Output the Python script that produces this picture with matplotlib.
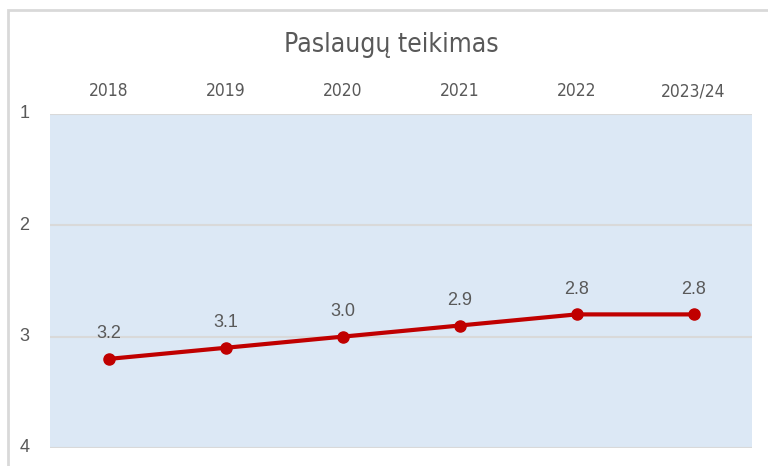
import matplotlib.pyplot as plt
from matplotlib.patches import Rectangle

years = ['2018', '2019', '2020', '2021', '2022', '2023/24']
values = [3.2, 3.1, 3.0, 2.9, 2.8, 2.8]
y_ticks = [1, 2, 3, 4]

label_col = '#595959'

fig = plt.figure(figsize=(7.68, 4.66), dpi=100)
W, H = 768, 466
ax = fig.add_axes([50 / W, 1 - 448 / H, 702 / W, 334 / H])
ax.set_facecolor('#dce8f5')

# outer chart border
fig.patches.append(Rectangle((8 / W, -0.05), 1.0, 1 - 10 / H + 0.05,
                             transform=fig.transFigure, fill=False,
                             edgecolor='#d9d9d9', linewidth=2))

x = list(range(len(years)))
ax.plot(x, values, color='#c00000', linewidth=3, marker='o', markersize=8, zorder=3)
for xi, v in zip(x, values):
    ax.annotate(f'{v:.1f}', (xi, v), xytext=(0, 12), textcoords='offset points',
                ha='center', va='bottom', fontsize=13, color=label_col,
                family='Liberation Sans')

ax.set_xlim(-0.5, len(years) - 0.5)
ax.set_ylim(4, 1)
ax.set_yticks(y_ticks)
ax.set_xticks(x)
ax.set_xticklabels(years, family='DejaVu Sans', stretch='condensed', fontsize=12.5, color=label_col)
ax.set_yticklabels([str(t) for t in y_ticks], family='Liberation Sans', fontsize=13, color=label_col)
ax.xaxis.tick_top()
ax.tick_params(axis='x', length=0, pad=10)
ax.tick_params(axis='y', length=0, pad=15)
for t in ax.get_yticklabels():
    t.set_verticalalignment('center')
ax.grid(axis='y', color='#d9d9d9', linewidth=1.5)
ax.set_axisbelow(True)
for s in ax.spines.values():
    s.set_visible(False)

fig.text(391 / W, 1 - 45 / H, 'Paslaugų teikimas', ha='center', va='center',
         fontsize=19, color=label_col, family='DejaVu Sans', stretch='condensed')

fig.savefig('out.png', dpi=100)
